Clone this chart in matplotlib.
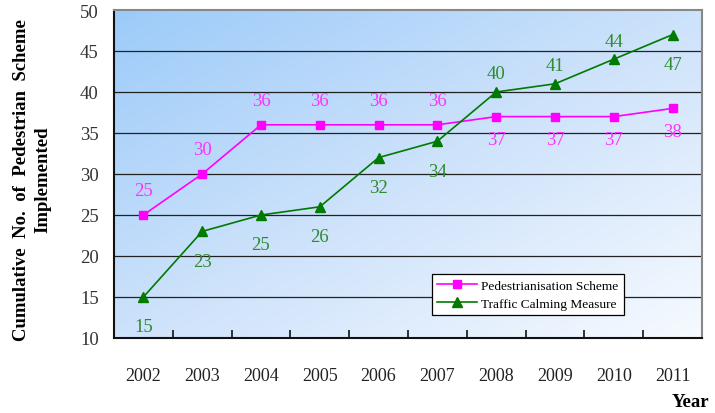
import numpy as np
import matplotlib
matplotlib.use("Agg")
import matplotlib.pyplot as plt
from matplotlib.colors import LinearSegmentedColormap

years = ["2002", "2003", "2004", "2005", "2006", "2007", "2008", "2009", "2010", "2011"]
pedestrian = [25, 30, 36, 36, 36, 36, 37, 37, 37, 38]
calming = [15, 23, 25, 26, 32, 34, 40, 41, 44, 47]
# label placement: +1 above the marker, -1 below
ped_side = [1, 1, 1, 1, 1, 1, -1, -1, -1, -1]
calm_side = [-1, -1, -1, -1, -1, -1, 1, 1, 1, -1]
y_ticks = [10, 15, 20, 25, 30, 35, 40, 45, 50]

plt.rcParams["font.family"] = ["Liberation Serif", "DejaVu Serif"]

PX = 0.72  # points per pixel at 100 dpi

fig = plt.figure(figsize=(7.15, 4.14), dpi=100)
ax = fig.add_axes([114 / 715, 1 - 339 / 414, 588 / 715, 328 / 414])

# diagonal blue-to-white background, bluest at the top-left corner
cmap = LinearSegmentedColormap.from_list("bg", ["#9ccbf9", "#cde2fb", "#f6faff"])
gx, gy = np.meshgrid(np.linspace(0, 1, 300), np.linspace(0, 1, 300))
grad = (gx + gy) / 2
ax.imshow(grad, cmap=cmap, extent=[0, 1, 0, 1], transform=ax.transAxes,
          aspect="auto", zorder=0, origin="upper")

x = np.arange(len(years))
ax.set_xlim(-0.5, len(years) - 0.5)
ax.set_ylim(10, 50)

for yv in y_ticks[1:-1]:
    ax.axhline(yv, color="#222222", lw=0.9, zorder=1)

ax.plot(x, pedestrian, color="#ff00ff", lw=1.2, marker="s", ms=6,
        label="Pedestrianisation Scheme", zorder=3)
ax.plot(x, calming, color="#007a00", lw=1.2, marker="^", ms=6.5,
        label="Traffic Calming Measure", zorder=3)

for xi, v, s in zip(x, pedestrian, ped_side):
    off = 24 * PX if s > 0 else -23 * PX
    ax.annotate(str(v), (xi, v), xytext=(0, off), textcoords="offset points",
                ha="center", va="center", color="#ff33ff", fontsize=13.5, zorder=4)
for xi, v, s in zip(x, calming, calm_side):
    off = 18 * PX if s > 0 else -30 * PX
    ax.annotate(str(v), (xi, v), xytext=(0, off), textcoords="offset points",
                ha="center", va="center", color="#2e8b2e", fontsize=13.5, zorder=4)

ax.set_yticks(y_ticks)
ax.set_yticklabels([str(t) for t in y_ticks], fontsize=13.5, color="#333333")
ax.tick_params(axis="y", length=0, pad=11)

ax.set_xticks(x)
ax.set_xticklabels(years, fontsize=13, color="#222222")
ax.tick_params(axis="x", which="major", length=0, pad=21)
ax.set_xticks(np.arange(0.5, len(years) - 0.5), minor=True)
ax.tick_params(axis="x", which="minor", direction="in", length=6, width=1.2,
               color="#111111")

for side in ("left", "bottom"):
    ax.spines[side].set_color("#111111")
    ax.spines[side].set_linewidth(1.5)
for side in ("top", "right"):
    ax.spines[side].set_color("#888888")
    ax.spines[side].set_linewidth(1.5)

fig.text(32 / 715, 1 - 180 / 414,
         "Cumulative  No.  of  Pedestrian  Scheme\nImplemented",
         fontsize=13.5, fontweight="bold", linespacing=1.3, rotation=90,
         ha="center", va="center", multialignment="center")

fig.text(690 / 715, 1 - 403 / 414, "Year", fontsize=13.5, fontweight="bold",
         ha="center", va="center")

leg = ax.legend(loc="upper left",
                bbox_to_anchor=((432 - 114) / 588, 1 - (275 - 11) / 328),
                borderaxespad=0, fontsize=9.6, frameon=True, fancybox=False,
                framealpha=1, edgecolor="#000000", borderpad=0.4,
                handlelength=3.0, labelspacing=0.45, handletextpad=0.3)
leg.get_frame().set_linewidth(0.9)
leg.set_zorder(5)

fig.savefig("out.png", dpi=100)
